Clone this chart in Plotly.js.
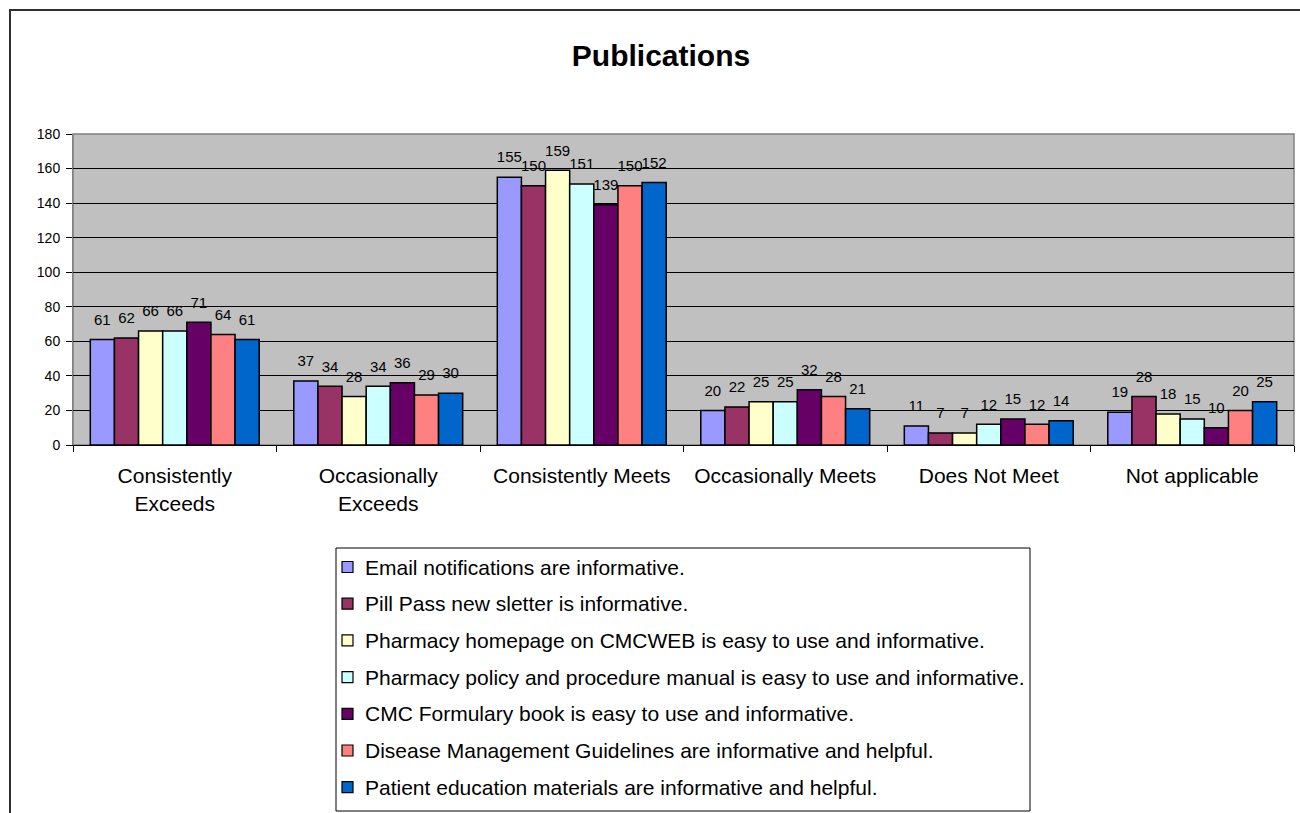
<!DOCTYPE html>
<html>
<head>
<meta charset="utf-8">
<script src="https://cdn.plot.ly/plotly-3.0.1.min.js"></script>
<style>
  html, body { margin: 0; padding: 0; background: #ffffff; }
  #chart { width: 1300px; height: 813px; }
</style>
</head>
<body>
<div id="chart"></div>
<script>
// Rating categories along the x axis
const categories = [
  'Consistently<br>Exceeds',
  'Occasionally<br>Exceeds',
  'Consistently Meets',
  'Occasionally Meets',
  'Does Not Meet',
  'Not applicable'
];

// Survey statements (one bar series each)
const seriesNames = [
  'Email notifications are informative.',
  'Pill Pass new sletter is informative.',
  'Pharmacy homepage on CMCWEB is easy to use and informative.',
  'Pharmacy policy and procedure manual is easy to use and informative.',
  'CMC Formulary book is easy to use and informative.',
  'Disease Management Guidelines are informative and helpful.',
  'Patient education materials are informative and helpful.'
];

// Response counts per category
const emailNotifications = [61, 37, 155, 20, 11, 19];
const pillPassNewsletter = [62, 34, 150, 22, 7, 28];
const pharmacyHomepage   = [66, 28, 159, 25, 7, 18];
const policyManual       = [66, 34, 151, 25, 12, 15];
const formularyBook      = [71, 36, 139, 32, 15, 10];
const diseaseGuidelines  = [64, 29, 150, 28, 12, 20];
const patientEducation   = [61, 30, 152, 21, 14, 25];

const seriesValues = [
  emailNotifications, pillPassNewsletter, pharmacyHomepage, policyManual,
  formularyBook, diseaseGuidelines, patientEducation
];

const seriesColors = ['#9999FF', '#993366', '#FFFFCC', '#CCFFFF', '#660066', '#FF8080', '#0066CC'];

const FONT = 'Liberation Sans, Arial, sans-serif';
const GAP = 0.17;

// grouped bars
const barTraces = seriesValues.map((vals, i) => ({
  type: 'bar',
  name: seriesNames[i],
  x: categories,
  y: vals,
  marker: { color: seriesColors[i], line: { color: '#000000', width: 1.5 } },
  showlegend: false,
  hoverinfo: 'x+y+name'
}));

// value labels: grouped text points sitting over each bar,
// lifted by an invisible marker so the numbers float above the bar tops
const labelTraces = seriesValues.map((vals, i) => ({
  type: 'scatter',
  mode: 'markers+text',
  x: categories,
  y: vals,
  text: vals.map(String),
  textposition: 'top center',
  textfont: { family: FONT, size: 15, color: '#000000' },
  marker: { size: 16, opacity: 0 },
  cliponaxis: false,
  showlegend: false,
  hoverinfo: 'skip'
}));

// plot-area geometry in pixels, used to place frame and legend in paper units
const W = 1300, H = 813;
const L = 73, R = 1294, T = 134, B = 445;
const pw = R - L, ph = B - T;
const px = x => (x - L) / pw;
const py = y => (B - y) / ph;

// legend box layout
const legBox = { x0: 336, x1: 1030, y0: 548, y1: 811 };
const legRow0 = 567, legStep = 36.7, legSym = 11, legSymX = 347.5, legTextX = 363;

const shapes = [
  // plot-area border
  { type: 'rect', xref: 'paper', yref: 'paper', x0: 0, x1: 1, y0: 0, y1: 1,
    line: { color: '#808080', width: 1.5 }, layer: 'below' },
  // outer chart frame
  { type: 'rect', xref: 'paper', yref: 'paper',
    x0: px(10), x1: px(1320), y0: py(840), y1: py(10),
    line: { color: '#303030', width: 2 }, fillcolor: 'rgba(0,0,0,0)', layer: 'above' },
  // legend box
  { type: 'rect', xref: 'paper', yref: 'paper',
    x0: px(legBox.x0), x1: px(legBox.x1), y0: py(legBox.y1), y1: py(legBox.y0),
    line: { color: '#000000', width: 1 }, fillcolor: '#ffffff', layer: 'above' }
];
const annotations = [];

seriesNames.forEach((name, i) => {
  const cy = legRow0 + i * legStep;
  shapes.push({
    type: 'rect', xref: 'paper', yref: 'paper',
    x0: px(legSymX - legSym / 2), x1: px(legSymX + legSym / 2),
    y0: py(cy + legSym / 2), y1: py(cy - legSym / 2),
    line: { color: '#000000', width: 1.2 }, fillcolor: seriesColors[i], layer: 'above'
  });
  annotations.push({
    xref: 'paper', yref: 'paper',
    x: px(legTextX), y: py(cy),
    xanchor: 'left', yanchor: 'middle',
    text: name, showarrow: false,
    font: { family: FONT, size: 21, color: '#000000' }
  });
});

const layout = {
  width: W,
  height: H,
  margin: { l: L, r: W - R, t: T, b: H - B, pad: 0 },
  paper_bgcolor: '#ffffff',
  plot_bgcolor: '#C0C0C0',
  font: { family: FONT, color: '#000000' },
  barmode: 'group',
  bargap: GAP,
  bargroupgap: 0,
  scattermode: 'group',
  scattergap: GAP,
  showlegend: false,
  title: {
    text: '<b>Publications</b>',
    font: { family: FONT, size: 30, color: '#000000' },
    x: 661 / W,
    xanchor: 'center',
    y: 1 - 55 / H,
    yanchor: 'middle'
  },
  xaxis: {
    type: 'category',
    tickson: 'boundaries',
    ticks: 'outside',
    ticklen: 6,
    tickcolor: '#000000',
    tickwidth: 1,
    ticklabelstandoff: 12,
    showline: true,
    linecolor: '#000000',
    linewidth: 1,
    showgrid: false,
    tickfont: { family: FONT, size: 21, color: '#000000' },
    fixedrange: true
  },
  yaxis: {
    range: [0, 180],
    dtick: 20,
    tick0: 0,
    ticks: 'outside',
    ticklen: 6,
    tickcolor: '#000000',
    ticklabelstandoff: 3,
    showline: true,
    linecolor: '#808080',
    linewidth: 1,
    showgrid: true,
    gridcolor: '#000000',
    gridwidth: 1,
    zeroline: false,
    tickfont: { family: FONT, size: 14, color: '#000000' },
    fixedrange: true
  },
  shapes: shapes,
  annotations: annotations
};

Plotly.newPlot('chart', barTraces.concat(labelTraces), layout, { displayModeBar: false, staticPlot: true });
</script>
</body>
</html>
